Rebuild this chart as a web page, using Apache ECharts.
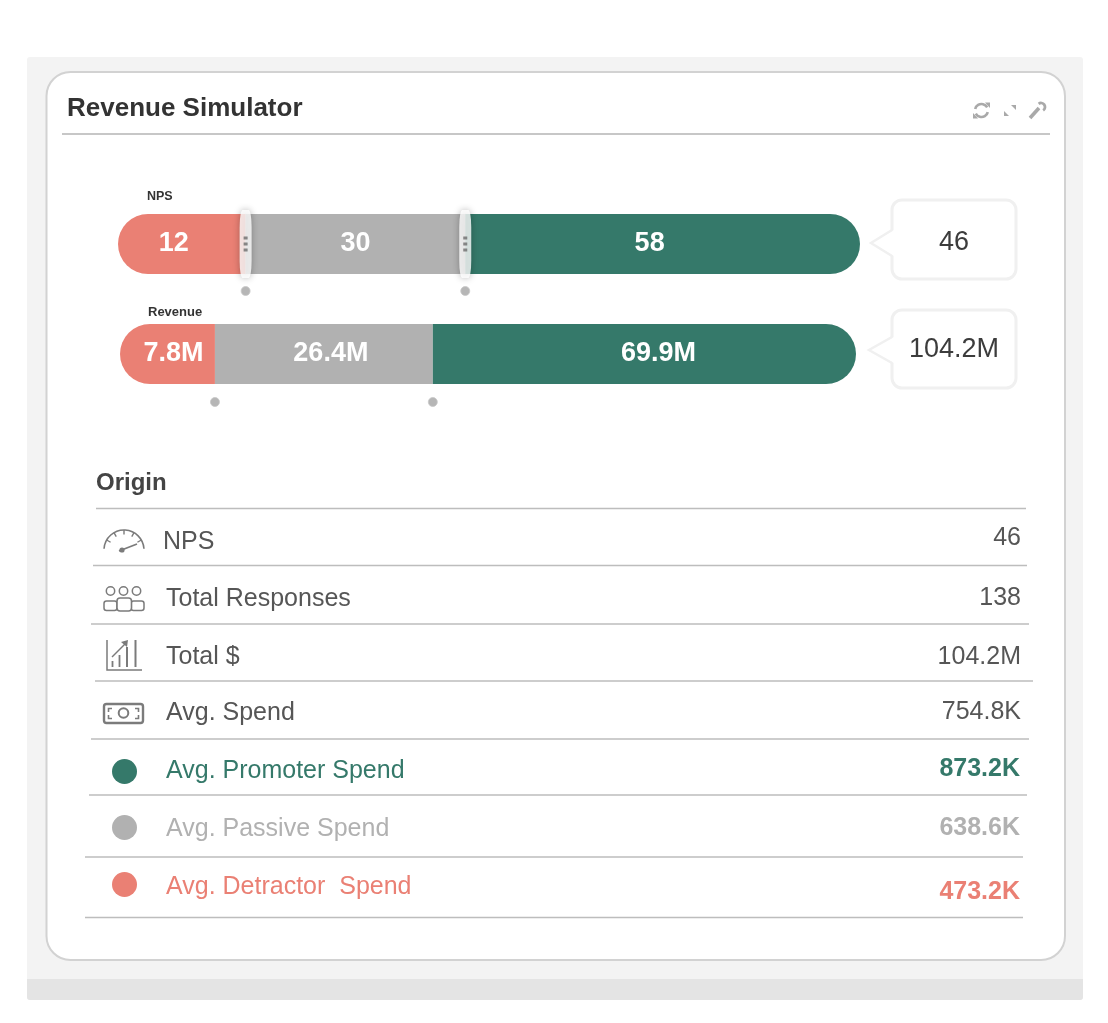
<!DOCTYPE html>
<html>
<head>
<meta charset="utf-8">
<title>Revenue Simulator</title>
<style>
  html, body { margin: 0; padding: 0; background: #fff; }
  #main { width: 1108px; height: 1023px; }
</style>
<script src="https://cdn.jsdelivr.net/npm/echarts@6/dist/echarts.min.js"></script>
</head>
<body>
<div id="main"></div>
<script>
// segment names, bottom to top of the stack
var segments = ["Detractor", "Passive", "Promoter"];

// bar labels
var npsLabels = ["12", "30", "58"];
var revenueLabels = ["7.8M", "26.4M", "69.9M"];

// drawn segment lengths, % of the bar
// (the original slider does not draw them in proportion to the labels)
var npsShares = [17.2, 29.6, 53.2];
var revenueShares = [12.9, 29.6, 57.5];

var npsTotal = "46";
var revenueTotal = "104.2M";

// table
var rowNames = ["NPS", "Total Responses", "Total $", "Avg. Spend", "Avg. Promoter Spend", "Avg. Passive Spend", "Avg. Detractor  Spend"];
var rowValues = ["46", "138", "104.2M", "754.8K", "873.2K", "638.6K", "473.2K"];

var TEAL = "#35796a", GREY = "#b1b1b1", RED = "#ea8074";
var segColors = [RED, GREY, TEAL];
var SANS = '"Liberation Sans", Arial, sans-serif';

var myChart = echarts.init(document.querySelector("#main"));

// 把一根分段条做成一组 series
function barSeries(idx, shares, labels, offsets) {
  return shares.map(function (v, i) {
    return {
      name: segments[i],
      type: "bar",
      stack: "s" + idx,
      xAxisIndex: idx,
      yAxisIndex: idx,
      barWidth: 60,
      silent: true,
      data: [v],
      itemStyle: {
        color: segColors[i],
        borderRadius: i === 0 ? [30, 0, 0, 30] : (i === 2 ? [0, 30, 30, 0] : 0)
      },
      label: {
        show: true,
        position: "inside",
        offset: offsets[i],
        formatter: labels[i],
        color: "#fff",
        fontFamily: SANS,
        fontWeight: "bold",
        fontSize: 27
      }
    };
  });
}

// cumulative boundaries between the segments
function cuts(shares) {
  return [[shares[0], 0], [shares[0] + shares[1], 0]];
}

function dotSeries(idx, shares, dy, shiftX) {
  return {
    type: "scatter",
    xAxisIndex: idx,
    yAxisIndex: idx,
    silent: true,
    symbol: "circle",
    symbolSize: 9,
    symbolOffset: [shiftX, dy],
    data: cuts(shares),
    itemStyle: { color: "#a4a4a4", borderColor: "#c8c8c8", borderWidth: 1 },
    z: 3
  };
}

var series = []
  .concat(barSeries(0, npsShares, npsLabels, [[-8, 0], [0, 0], [-13, 0]]))
  .concat(barSeries(1, revenueShares, revenueLabels, [[6, 0], [7, 0], [14, 0]]));

// slider handles on the NPS bar
series.push({
  type: "scatter",
  xAxisIndex: 0,
  yAxisIndex: 0,
  silent: true,
  symbol: "roundRect",
  symbolSize: [12, 68],
  data: cuts(npsShares),
  itemStyle: { color: "#fff", shadowBlur: 7, shadowColor: "rgba(0,0,0,0.35)" },
  z: 4
});
series.push({
  type: "scatter",
  xAxisIndex: 0,
  yAxisIndex: 0,
  silent: true,
  symbol: "path://M0 0h4v3h-4z M0 6h4v3h-4z M0 12h4v3h-4z",
  symbolSize: [4, 15],
  data: cuts(npsShares),
  itemStyle: { color: "#6d6d6d" },
  z: 5
});
series.push(dotSeries(0, npsShares, 47, 0));
series.push(dotSeries(1, revenueShares, 48, 0));

// ---- 卡片、文字、图标 ----
var g = [];

function rect(x, y, w, h, fill, r, stroke, lw, z) {
  g.push({
    type: "rect", z: z || 0,
    shape: { x: x, y: y, width: w, height: h, r: r || 0 },
    style: { fill: fill, stroke: stroke || null, lineWidth: lw || 0 }
  });
}
function line(x1, y1, x2, y2, color, lw, z) {
  g.push({
    type: "line", z: z || 1,
    shape: { x1: x1, y1: y1, x2: x2, y2: y2 },
    style: { stroke: color, lineWidth: lw || 1 }
  });
}
function text(x, y, str, font, fill, align) {
  g.push({
    type: "text", z: 2, x: x, y: y,
    style: { text: str, font: font, fill: fill, textAlign: align || "left", textVerticalAlign: "middle" }
  });
}
function circle(cx, cy, r, fill, stroke, lw) {
  g.push({
    type: "circle", z: 2,
    shape: { cx: cx, cy: cy, r: r },
    style: { fill: fill, stroke: stroke || null, lineWidth: lw || 0 }
  });
}
function arc(cx, cy, r, a0, a1, color, lw) {
  g.push({
    type: "arc", z: 2,
    shape: { cx: cx, cy: cy, r: r, startAngle: a0, endAngle: a1, clockwise: true },
    style: { stroke: color, lineWidth: lw, fill: null }
  });
}
function poly(points, fill, z) {
  g.push({ type: "polygon", z: z || 2, shape: { points: points }, style: { fill: fill } });
}
function polyline(points, color, lw, z) {
  g.push({ type: "polyline", z: z || 2, shape: { points: points }, style: { stroke: color, lineWidth: lw, fill: null } });
}

// 背景
rect(27, 57, 1056, 943, "#f3f3f3", 3);
rect(27, 979, 1056, 21, "#e4e4e4", [0, 0, 3, 3]);
rect(46.5, 72, 1018.5, 888, "#fff", 24, "#d2d2d2", 2);

// 标题
text(67, 109, "Revenue Simulator", "bold 26px " + SANS, "#333");
line(62, 134, 1050, 134, "#b4b4b4", 1.5);

// 工具图标
var iconGrey = "#a9a9a9";
arc(981.5, 110.5, 6.5, -2.9, -0.5, iconGrey, 2.6);
arc(981.5, 110.5, 6.5, 0.25, 2.65, iconGrey, 2.6);
poly([[985, 102.5], [990, 102.5], [990, 108]], iconGrey);
poly([[973, 113], [978, 118.5], [973, 118.5]], iconGrey);
poly([[1011, 105], [1016, 105], [1016, 110]], iconGrey);
poly([[1004, 111], [1009, 116], [1004, 116]], iconGrey);
line(1030, 118, 1039, 108, iconGrey, 3.6);
arc(1041, 107, 4, -2.2, 1.0, iconGrey, 2.8);

// bar captions
text(147, 197, "NPS", "bold 12.5px " + SANS, "#333");
text(148, 312, "Revenue", "bold 13px " + SANS, "#333");

// callouts
function callout(x, y, w, h, tipX, tipY, str) {
  rect(x, y, w, h, "#fff", 10, "#f0f0f0", 3, 1);
  poly([[x + 2, tipY - 13], [tipX, tipY], [x + 2, tipY + 13]], "#fff", 2);
  polyline([[x, tipY - 13], [tipX, tipY], [x, tipY + 13]], "#f0f0f0", 2.5, 2);
  text(x + w / 2, tipY, str, "27px " + SANS, "#3c3c3c", "center");
}
callout(892, 200, 124, 79, 871, 243, npsTotal);
callout(892, 310, 124, 78, 869, 350, revenueTotal);

// 表格
text(96, 483, "Origin", "bold 24px " + SANS, "#444");

var ruleLines = [[96, 1026, 508.5], [93, 1027, 565.5], [91, 1029, 624], [95, 1033, 681], [91, 1029, 739], [89, 1027, 795], [85, 1023, 857], [85, 1023, 917.5]];
ruleLines.forEach(function (r) {
  line(r[0], r[2], r[1], r[2], "#bdbdbd", 1.5);
});

var nameX = [163, 166, 166, 166, 166, 166, 166];
var nameY = [542, 599, 657, 713, 771, 829, 887];
var valueY = [538, 598, 657, 712, 769, 828, 892];
var ink = "#565656";
var rowInk = [ink, ink, ink, ink, TEAL, GREY, RED];

rowNames.forEach(function (name, i) {
  text(nameX[i], nameY[i], name, "25px " + SANS, rowInk[i]);
  var coloured = i >= 4;
  text(coloured ? 1020 : 1021, valueY[i], rowValues[i], (coloured ? "bold " : "") + "25px " + SANS, rowInk[i], "right");
});

// row dots
circle(124.5, 771.5, 12.5, TEAL);
circle(124.5, 827.5, 12.5, GREY);
circle(124.5, 884.5, 12.5, RED);

// gauge icon
var ic = "#7b7b7b";
arc(124, 550, 20, Math.PI * 1.02, Math.PI * 1.98, ic, 1.6);
[-150, -120, -90, -60, -30].forEach(function (d) {
  var a = d * Math.PI / 180;
  line(124 + 20 * Math.cos(a), 550 + 20 * Math.sin(a), 124 + 15.5 * Math.cos(a), 550 + 15.5 * Math.sin(a), ic, 1.4, 2);
});
line(119, 551, 137, 544, ic, 1.8, 2);
circle(122, 550, 2.6, ic);

// people icon
[110.5, 123.5, 136.5].forEach(function (x) {
  circle(x, 591, 4.2, "#fff", ic, 1.5);
});
rect(104, 601, 13, 9.5, "#fff", 2.5, ic, 1.5, 1);
rect(131, 601, 13, 9.5, "#fff", 2.5, ic, 1.5, 1);
rect(117, 598, 14.5, 13, "#fff", 3, ic, 1.6, 2);

// chart icon
polyline([[107, 640], [107, 670], [142, 670]], ic, 1.5);
line(112.5, 661, 112.5, 667, ic, 1.8, 2);
line(119.5, 655, 119.5, 667, ic, 1.8, 2);
line(127, 647, 127, 667, ic, 2, 2);
line(135.5, 640, 135.5, 667, ic, 2, 2);
line(112, 657, 125, 644, ic, 1.5, 2);
poly([[121, 642], [128, 640], [127, 647]], ic);

// money icon
rect(104, 704, 39, 19, "#fff", 2.5, ic, 2.4, 1);
circle(123.5, 713, 4.8, "#fff", ic, 2);
polyline([[112, 708.5], [108.5, 708.5], [108.5, 712]], ic, 1.6);
polyline([[135, 708.5], [138.5, 708.5], [138.5, 712]], ic, 1.6);
polyline([[112, 718.5], [108.5, 718.5], [108.5, 715]], ic, 1.6);
polyline([[135, 718.5], [138.5, 718.5], [138.5, 715]], ic, 1.6);

var hiddenX = { type: "value", min: 0, max: 100, show: false };
var hiddenY = { type: "category", data: ["v"], show: false };

var option = {
  animation: false,
  backgroundColor: "#fff",
  grid: [
    { left: 118, top: 214, width: 742, height: 60 },
    { left: 120, top: 324, width: 736, height: 60 }
  ],
  xAxis: [
    Object.assign({ gridIndex: 0 }, hiddenX),
    Object.assign({ gridIndex: 1 }, hiddenX)
  ],
  yAxis: [
    Object.assign({ gridIndex: 0 }, hiddenY),
    Object.assign({ gridIndex: 1 }, hiddenY)
  ],
  graphic: { elements: g },
  series: series
};
myChart.setOption(option);

window.addEventListener("resize", function () {
  myChart.resize();
});
</script>
</body>
</html>
